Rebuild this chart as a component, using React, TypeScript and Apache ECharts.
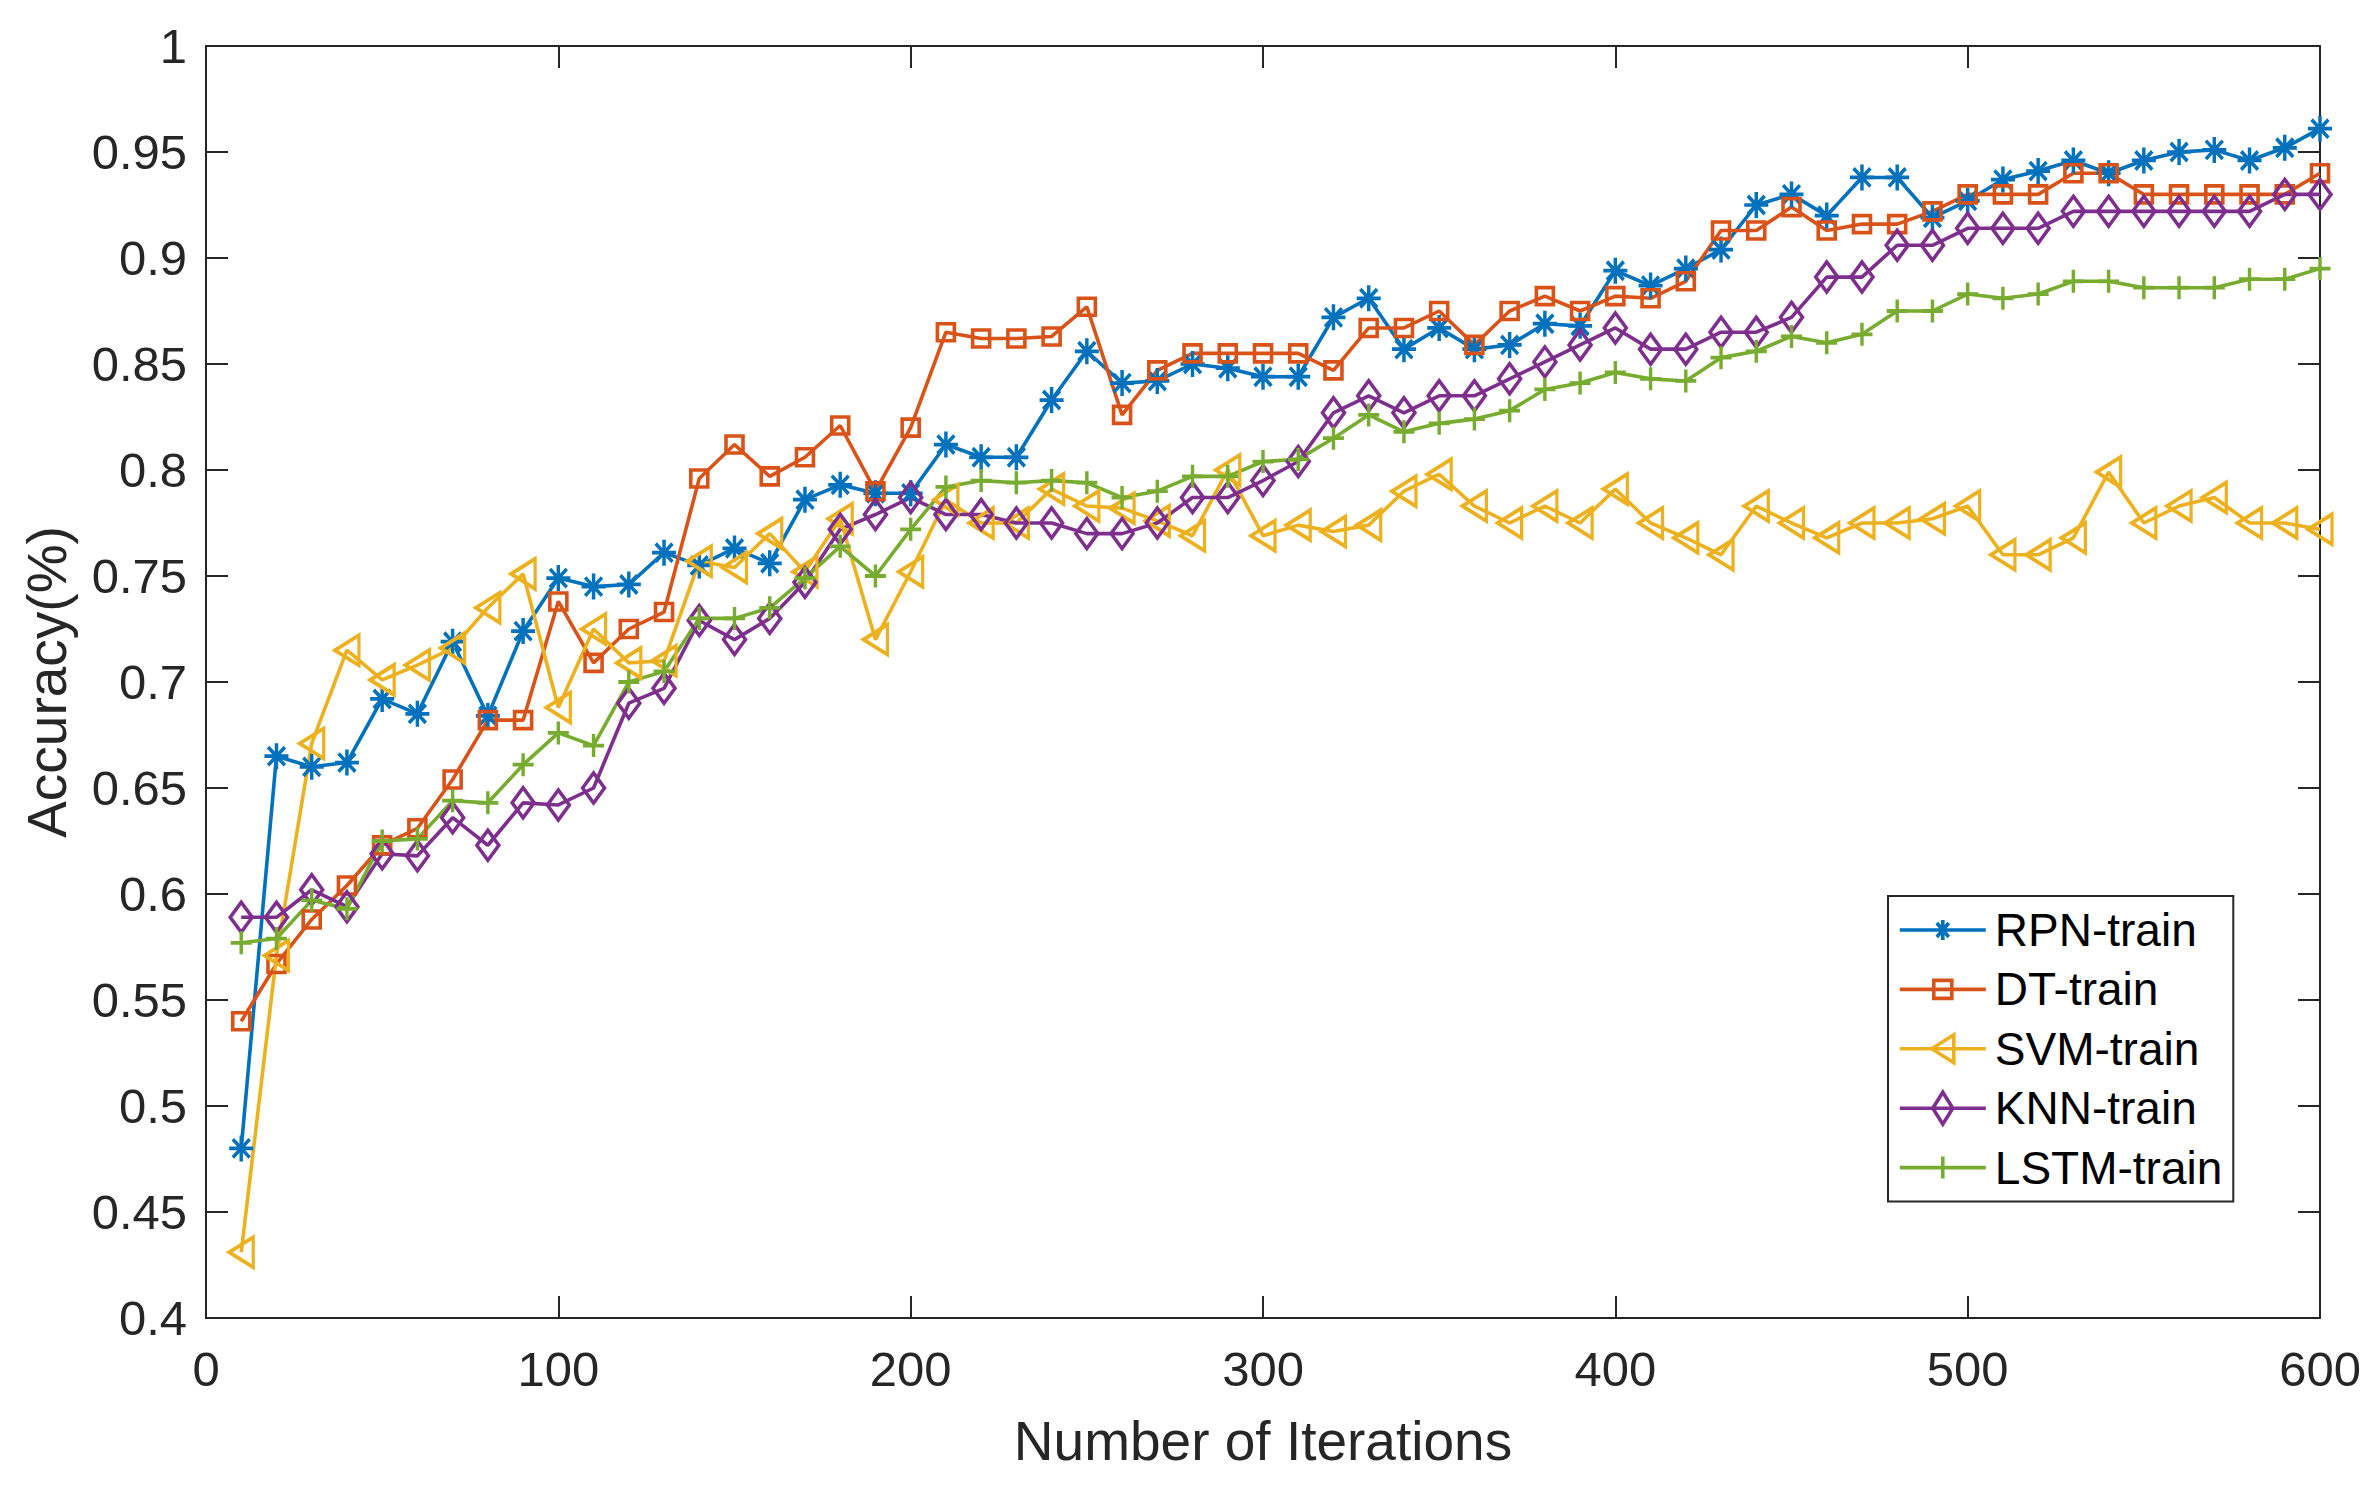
import React, { useEffect, useRef } from "react";
import * as echarts from "echarts";

const iterations = [
  10, 20, 30, 40, 50, 60, 70, 80, 90, 100,
  110, 120, 130, 140, 150, 160, 170, 180, 190, 200,
  210, 220, 230, 240, 250, 260, 270, 280, 290, 300,
  310, 320, 330, 340, 350, 360, 370, 380, 390, 400,
  410, 420, 430, 440, 450, 460, 470, 480, 490, 500,
  510, 520, 530, 540, 550, 560, 570, 580, 590, 600,
];

const rpnTrain = [
  0.48, 0.665, 0.66, 0.662, 0.692, 0.685, 0.719, 0.684, 0.724, 0.749,
  0.745, 0.746, 0.761, 0.755, 0.763, 0.756, 0.786, 0.793, 0.789, 0.789,
  0.812, 0.806, 0.806, 0.833, 0.856, 0.841, 0.842, 0.85, 0.848, 0.844,
  0.844, 0.872, 0.881, 0.857, 0.867, 0.857, 0.859, 0.869, 0.868, 0.894,
  0.887, 0.895, 0.904, 0.925, 0.93, 0.92, 0.938, 0.938, 0.919, 0.927,
  0.937, 0.941, 0.946, 0.94, 0.946, 0.95, 0.951, 0.946, 0.952, 0.961,
];

const dtTrain = [
  0.54, 0.567, 0.588, 0.604, 0.623, 0.631, 0.654, 0.682, 0.682, 0.738,
  0.709, 0.725, 0.733, 0.796, 0.812, 0.797, 0.806, 0.821, 0.79, 0.82,
  0.865, 0.862, 0.862, 0.863, 0.877, 0.826, 0.847, 0.855, 0.855, 0.855,
  0.855, 0.847, 0.867, 0.867, 0.875, 0.859, 0.875, 0.882, 0.875, 0.882,
  0.881, 0.889, 0.913, 0.913, 0.924, 0.913, 0.916, 0.916, 0.922, 0.93,
  0.93, 0.93, 0.94, 0.94, 0.93, 0.93, 0.93, 0.93, 0.93, 0.94,
];

const svmTrain = [
  0.431, 0.571, 0.671, 0.715, 0.701, 0.708, 0.716, 0.735, 0.751, 0.688,
  0.725, 0.709, 0.71, 0.757, 0.754, 0.77, 0.752, 0.777, 0.72, 0.752,
  0.786, 0.775, 0.775, 0.791, 0.783, 0.782, 0.776, 0.769, 0.8, 0.769,
  0.774, 0.771, 0.774, 0.79, 0.798, 0.783, 0.775, 0.783, 0.775, 0.791,
  0.775, 0.768, 0.76, 0.783, 0.775, 0.768, 0.775, 0.775, 0.777, 0.783,
  0.76, 0.76, 0.768, 0.799, 0.775, 0.783, 0.787, 0.775, 0.775, 0.772,
];

const knnTrain = [
  0.589, 0.589, 0.602, 0.594, 0.619, 0.618, 0.636, 0.623, 0.643, 0.642,
  0.65, 0.69, 0.697, 0.729, 0.72, 0.73, 0.747, 0.772, 0.779, 0.787,
  0.779, 0.779, 0.775, 0.775, 0.77, 0.77, 0.775, 0.787, 0.787, 0.795,
  0.804, 0.827, 0.835, 0.827, 0.835, 0.835, 0.843, 0.851, 0.859, 0.867,
  0.857, 0.857, 0.865, 0.865, 0.872, 0.891, 0.891, 0.906, 0.906, 0.914,
  0.914, 0.914, 0.922, 0.922, 0.922, 0.922, 0.922, 0.922, 0.93, 0.93,
];

const lstmTrain = [
  0.577, 0.579, 0.597, 0.593, 0.625, 0.626, 0.644, 0.643, 0.661, 0.676,
  0.67, 0.7, 0.705, 0.73, 0.73, 0.735, 0.749, 0.764, 0.75, 0.772,
  0.792, 0.795, 0.794, 0.795, 0.794, 0.787, 0.79, 0.797, 0.797, 0.804,
  0.805, 0.815, 0.826, 0.818, 0.822, 0.824, 0.828, 0.838, 0.841, 0.846,
  0.843, 0.842, 0.853, 0.856, 0.863, 0.86, 0.864, 0.875, 0.875, 0.883,
  0.881, 0.883, 0.889, 0.889, 0.886, 0.886, 0.886, 0.89, 0.89, 0.895,
];

const seriesNames = ["RPN-train", "DT-train", "SVM-train", "KNN-train", "LSTM-train"];
const seriesValues = [rpnTrain, dtTrain, svmTrain, knnTrain, lstmTrain];
const seriesColors = ["#0072BD", "#D95319", "#EDB120", "#7E2F8E", "#77AC30"];

const xAxisTitle = "Number of Iterations";
const yAxisTitle = "Accuracy(%)";

const FONT = "'Liberation Sans', Arial, Helvetica, sans-serif";
const AXIS_COLOR = "#262626";
const STROKE = 3.6;

const seriesSymbols = [
  "path://M0,-1L0,1M-1,0L1,0M-0.7,-0.7L0.7,0.7M-0.7,0.7L0.7,-0.7",
  "rect",
  "path://M0,10L20,0L20,20Z",
  "diamond",
  "path://M0,-1L0,1M-1,0L1,0",
];
const seriesSymbolSizes: any[] = [
  [24, 26],
  17,
  [24, 30],
  [22, 30],
  [21, 23],
];

const LINE = "M0,0M90,36M0,18L86,18";
const legendIcons = [
  "path://" + LINE + "M43,8L43,28M34.5,18L51.5,18M37,11L49,25M37,25L49,11",
  "path://" + LINE + "M34,9L52,9L52,27L34,27Z",
  "path://" + LINE + "M32,18L54,4L54,32Z",
  "path://" + LINE + "M43,2L53,18L43,34L33,18Z",
  "path://" + LINE + "M43,7L43,29",
];

export default function App() {
  const ref = useRef<HTMLDivElement>(null);

  useEffect(() => {
    if (!ref.current) return;
    const chart = echarts.init(ref.current, null, { renderer: "svg" });

    const mirrorAxis = {
      axisLine: { show: true, onZero: false, lineStyle: { color: AXIS_COLOR, width: 2 } },
      axisTick: { show: true, inside: true, length: 22, lineStyle: { color: AXIS_COLOR, width: 2 } },
      axisLabel: { show: false },
      splitLine: { show: false },
    };

    const option: any = {
      animation: false,
      backgroundColor: "#ffffff",
      textStyle: { fontFamily: FONT },
      grid: { left: 206, right: 54, top: 46, bottom: 179, containLabel: false },
      xAxis: [
        {
          type: "value",
          min: 0,
          max: 600,
          interval: 100,
          position: "bottom",
          name: xAxisTitle,
          nameLocation: "middle",
          nameGap: 95,
          nameTextStyle: { fontSize: 55, color: AXIS_COLOR, fontFamily: FONT },
          axisLine: { show: true, onZero: false, lineStyle: { color: AXIS_COLOR, width: 2 } },
          axisTick: { show: true, inside: true, length: 22, lineStyle: { color: AXIS_COLOR, width: 2 } },
          axisLabel: { show: true, margin: 26, fontSize: 49, color: AXIS_COLOR, fontFamily: FONT },
          splitLine: { show: false },
        },
        {
          type: "value",
          min: 0,
          max: 600,
          interval: 100,
          position: "top",
          ...mirrorAxis,
        },
      ],
      yAxis: [
        {
          type: "value",
          min: 0.4,
          max: 1,
          interval: 0.05,
          position: "left",
          name: yAxisTitle,
          nameLocation: "middle",
          nameGap: 132,
          nameTextStyle: { fontSize: 55, color: AXIS_COLOR, fontFamily: FONT },
          axisLine: { show: true, onZero: false, lineStyle: { color: AXIS_COLOR, width: 2 } },
          axisTick: { show: true, inside: true, length: 22, lineStyle: { color: AXIS_COLOR, width: 2 } },
          axisLabel: {
            show: true,
            margin: 19,
            fontSize: 49,
            color: AXIS_COLOR,
            fontFamily: FONT,
            formatter: (v: number) => String(parseFloat(v.toFixed(2))),
          },
          splitLine: { show: false },
        },
        {
          type: "value",
          min: 0.4,
          max: 1,
          interval: 0.05,
          position: "right",
          ...mirrorAxis,
        },
      ],
      legend: {
        show: true,
        orient: "vertical",
        left: 1888,
        top: 896,
        padding: [11, 11, 11, 10],
        itemGap: 13.4,
        itemWidth: 90,
        itemHeight: 36,
        backgroundColor: "#ffffff",
        borderColor: AXIS_COLOR,
        borderWidth: 2,
        borderRadius: 0,
        textStyle: { fontSize: 46, lineHeight: 46, color: "#000000", fontFamily: FONT },
        data: seriesNames.map((name, i) => ({
          name,
          icon: legendIcons[i],
          itemStyle: {
            color: "rgba(0,0,0,0)",
            borderColor: seriesColors[i],
            borderWidth: STROKE,
          },
        })),
      },
      series: seriesNames.map((name, i) => ({
        type: "line",
        name,
        xAxisIndex: 0,
        yAxisIndex: 0,
        data: iterations.map((it, j) => [it, seriesValues[i][j]]),
        symbol: seriesSymbols[i],
        symbolSize: seriesSymbolSizes[i],
        showSymbol: true,
        showAllSymbol: true,
        clip: false,
        lineStyle: { color: seriesColors[i], width: STROKE },
        itemStyle: {
          color: "rgba(0,0,0,0)",
          borderColor: seriesColors[i],
          borderWidth: STROKE,
        },
        emphasis: { disabled: true },
      })),
    };

    chart.setOption(option);
    return () => {
      chart.dispose();
    };
  }, []);

  return (
    <div
      ref={ref}
      style={{
        position: "fixed",
        left: 0,
        top: 0,
        width: 2374,
        height: 1497,
        background: "#ffffff",
      }}
    />
  );
}
